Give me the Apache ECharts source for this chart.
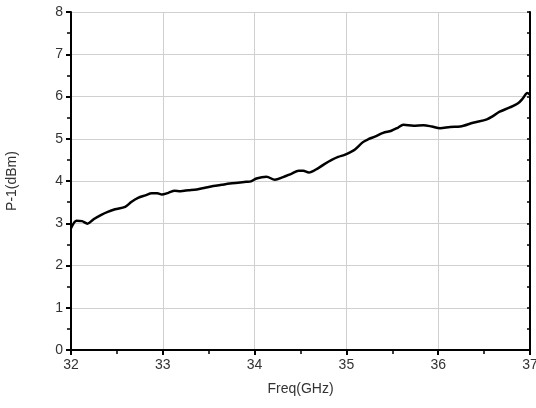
<!DOCTYPE html>
<html>
<head>
<meta charset="utf-8">
<script src="https://cdn.jsdelivr.net/npm/echarts@6/dist/echarts.min.js"></script>
<style>
  html, body { margin: 0; padding: 0; background: #fff; }
  #chart { width: 536px; height: 408px; }
</style>
</head>
<body>
<div id="chart"></div>
<script>
// frequency (GHz) and P-1 (dBm)
var freq = [32.00, 32.06, 32.12, 32.18, 32.25, 32.33, 32.40, 32.48, 32.59, 32.66,
            32.73, 32.81, 32.88, 32.94, 32.99, 33.06, 33.13, 33.19, 33.28, 33.37,
            33.46, 33.55, 33.64, 33.73, 33.82, 33.91, 33.96, 34.02, 34.13, 34.22,
            34.31, 34.40, 34.48, 34.53, 34.59, 34.69, 34.76, 34.84, 34.91, 34.98,
            35.04, 35.09, 35.18, 35.24, 35.31, 35.40, 35.49, 35.56, 35.62, 35.73,
            35.84, 35.93, 36.02, 36.13, 36.24, 36.38, 36.53, 36.60, 36.67, 36.78,
            36.87, 36.92, 36.97, 37.00];
var p1 = [2.88, 3.06, 3.05, 2.99, 3.10, 3.20, 3.27, 3.33, 3.39, 3.51,
          3.60, 3.66, 3.71, 3.71, 3.68, 3.72, 3.77, 3.76, 3.78, 3.80,
          3.84, 3.88, 3.91, 3.94, 3.96, 3.98, 3.99, 4.06, 4.10, 4.03,
          4.09, 4.17, 4.24, 4.24, 4.20, 4.30, 4.40, 4.50, 4.57, 4.62,
          4.68, 4.74, 4.92, 4.99, 5.05, 5.14, 5.19, 5.26, 5.33, 5.31,
          5.32, 5.29, 5.25, 5.28, 5.29, 5.38, 5.46, 5.54, 5.64, 5.74,
          5.84, 5.95, 6.08, 6.04];
var xTicks = [32, 33, 34, 35, 36, 37];
var yTicks = [0, 1, 2, 3, 4, 5, 6, 7, 8];

var chart = echarts.init(document.getElementById('chart'));

var lineData = freq.map(function (f, i) { return [f, p1[i]]; });
var axisFont = { fontFamily: 'Liberation Sans', fontSize: 14, color: '#333' };

var option = {
    backgroundColor: '#fff',
    animation: false,
    grid: { left: 71, right: 6, top: 12, bottom: 58, containLabel: false, outerBoundsMode: 'none' },
    xAxis: [{
        type: 'value',
        min: xTicks[0],
        max: xTicks[xTicks.length - 1],
        interval: 1,
        name: 'Freq(GHz)',
        nameLocation: 'middle',
        nameGap: 32,
        nameTextStyle: { fontFamily: 'Liberation Sans', fontSize: 14, color: '#333' },
        axisLine: { lineStyle: { color: '#000', width: 2 } },
        axisTick: { inside: false, length: 5, lineStyle: { color: '#000', width: 2 } },
        minorTick: { show: true, splitNumber: 2, length: 4, lineStyle: { color: '#000', width: 1.5 } },
        axisLabel: Object.assign({ margin: 8 }, axisFont),
        splitLine: { show: true, lineStyle: { color: '#d0d0d0', width: 1 } }
    }, {
        type: 'value',
        position: 'top',
        min: xTicks[0],
        max: xTicks[xTicks.length - 1],
        interval: 1,
        axisLine: { lineStyle: { color: '#000', width: 2 } },
        axisTick: { inside: true, length: 3, lineStyle: { color: '#000', width: 1.5 } },
        minorTick: { show: true, splitNumber: 2, length: 3, lineStyle: { color: '#000', width: 1.5 } },
        axisLabel: { show: false },
        splitLine: { show: false }
    }],
    yAxis: [{
        type: 'value',
        min: yTicks[0],
        max: yTicks[yTicks.length - 1],
        interval: 1,
        name: 'P-1(dBm)',
        nameLocation: 'middle',
        nameGap: 52,
        nameTextStyle: { fontFamily: 'Liberation Sans', fontSize: 14, color: '#333' },
        axisLine: { lineStyle: { color: '#000', width: 2 } },
        axisTick: { inside: false, length: 5, lineStyle: { color: '#000', width: 2 } },
        minorTick: { show: true, splitNumber: 2, length: 4, lineStyle: { color: '#000', width: 1.5 } },
        axisLabel: Object.assign({ margin: 8 }, axisFont),
        splitLine: { show: true, lineStyle: { color: '#d0d0d0', width: 1 } }
    }, {
        type: 'value',
        position: 'right',
        min: yTicks[0],
        max: yTicks[yTicks.length - 1],
        interval: 1,
        axisLine: { lineStyle: { color: '#000', width: 2 } },
        axisTick: { inside: true, length: 3, lineStyle: { color: '#000', width: 1.5 } },
        minorTick: { show: true, splitNumber: 2, length: 3, lineStyle: { color: '#000', width: 1.5 } },
        axisLabel: { show: false },
        splitLine: { show: false }
    }],
    series: [{
        type: 'line',
        data: lineData,
        showSymbol: false,
        symbol: 'none',
        smooth: 0.3,
        lineStyle: { color: '#000', width: 2.5 }
    }]
};

chart.setOption(option);
</script>
</body>
</html>
